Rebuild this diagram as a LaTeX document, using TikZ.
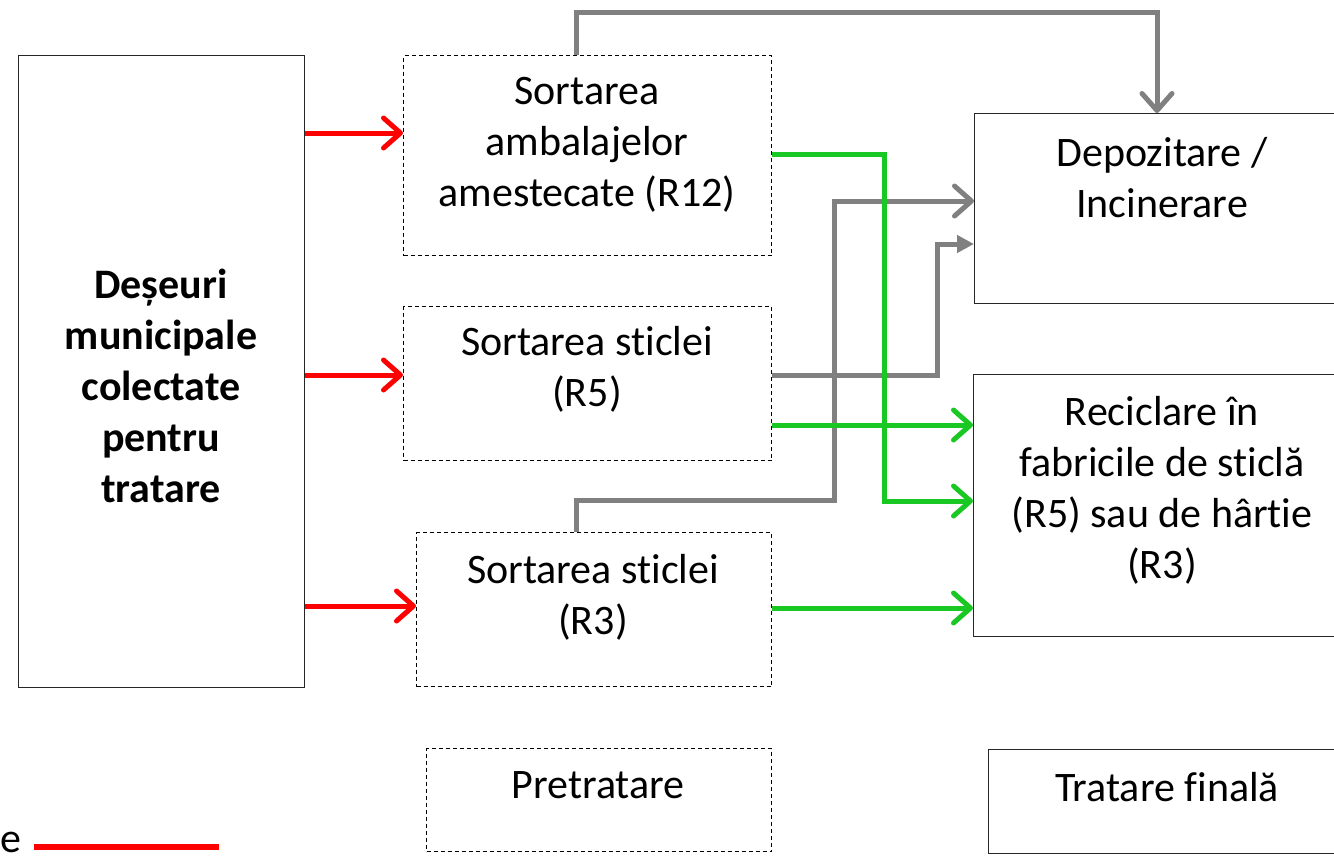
\documentclass[tikz,border=0pt]{standalone}
\usepackage{fontspec}
\setmainfont[Ligatures=NoCommon]{Carlito}
\usetikzlibrary{arrows.meta}
\definecolor{redc}{RGB}{255,0,0}
\definecolor{greenc}{RGB}{26,200,36}
\definecolor{grayc}{RGB}{128,128,128}
\begin{document}
\begin{tikzpicture}[x=1pt,y=-1pt,
  solidbox/.style={draw=black!85, line width=1.3pt, rectangle, inner sep=0pt, anchor=north west},
  dashbox/.style={draw=black, line width=1pt, dash pattern=on 4pt off 3pt, rectangle, inner sep=0pt, anchor=north west},
  lbl/.style={align=center, font=\fontsize{42}{51}\selectfont, inner sep=0pt},
  blbl/.style={align=center, font=\bfseries\fontsize{42}{51}\selectfont, inner sep=0pt},
  barb/.style={-{Straight Barb[length=17pt,width=30pt,round]}},
  redarrow/.style={barb, draw=redc, line width=5pt},
  greenarrow/.style={barb, draw=greenc, line width=5pt},
  grayarrow/.style={barb, draw=grayc, line width=5pt},
  grayfill/.style={-{Triangle[length=17pt,width=17pt,fill=grayc]}, draw=grayc, line width=5pt},
]
\useasboundingbox (0,0) rectangle (1334,855);
\clip (0,0) rectangle (1334,855);

% boxes
\node[solidbox, minimum width=286pt, minimum height=632pt] (src) at (18,55) {};
\node[dashbox, minimum width=368pt, minimum height=200pt] (A) at (403,55) {};
\node[dashbox, minimum width=368pt, minimum height=154pt] (B) at (403,306) {};
\node[dashbox, minimum width=355pt, minimum height=154pt] (C) at (416,532) {};
\node[dashbox, minimum width=345pt, minimum height=103pt] (P) at (426,748) {};
\node[solidbox, minimum width=370pt, minimum height=190pt] (D) at (974,113) {};
\node[solidbox, minimum width=372pt, minimum height=262pt] (R) at (973,374) {};
\node[solidbox, minimum width=360pt, minimum height=104pt] (F) at (988,749) {};

% texts
\node[blbl] (srct) at (161,386) {Deșeuri\\municipale\\colectate\\pentru\\tratare};
\node[lbl] (At) at (587,145) {Sortarea\\ambalajelor\\amestecate (R12)};
\node[lbl] (Bt) at (587,369) {Sortarea sticlei\\(R5)};
\node[lbl] (Ct) at (593,597) {Sortarea sticlei\\(R3)};
\node[lbl] (Pt) at (598,785) {Pretratare};
\node[lbl] (Dt) at (1162,178) {Depozitare /\\Incinerare};
\node[lbl] (Rt) at (1162,490) {Reciclare în\\fabricile de sticlă\\(R5) sau de hârtie\\(R3)};
\node[lbl] (Ft) at (1167,787) {Tratare finală};

% legend
\node[lbl, anchor=base west] (leg) at (0,852) {e};
\coordinate (l1) at (34,847);
\coordinate (l2) at (219,847);
\draw[draw=redc, line width=6pt] (l1) -- (l2);

% red arrows
\draw[redarrow] (src.east |- 0,133) -- (A.west |- 0,133);
\draw[redarrow] (src.east |- 0,375) -- (B.west |- 0,375);
\draw[redarrow] (src.east |- 0,606) -- (C.west |- 0,606);

% gray arrows
\draw[grayarrow] (A.north -| 576,0) -- (576,12) -- (1157,12) -- (D.north -| 1157,0);
\draw[grayarrow] (C.north -| 576,0) |- (834,500) |- (D.west |- 0,201);
\draw[grayfill] (B.east |- 0,375) -| (937,244) -- (D.west |- 0,244);

% green arrows
\draw[greenarrow] (A.east |- 0,154) -| (884,501) -- (R.west |- 0,501);
\draw[greenarrow] (B.east |- 0,425) -- (R.west |- 0,425);
\draw[greenarrow] (C.east |- 0,608) -- (R.west |- 0,608);
\end{tikzpicture}
\end{document}
